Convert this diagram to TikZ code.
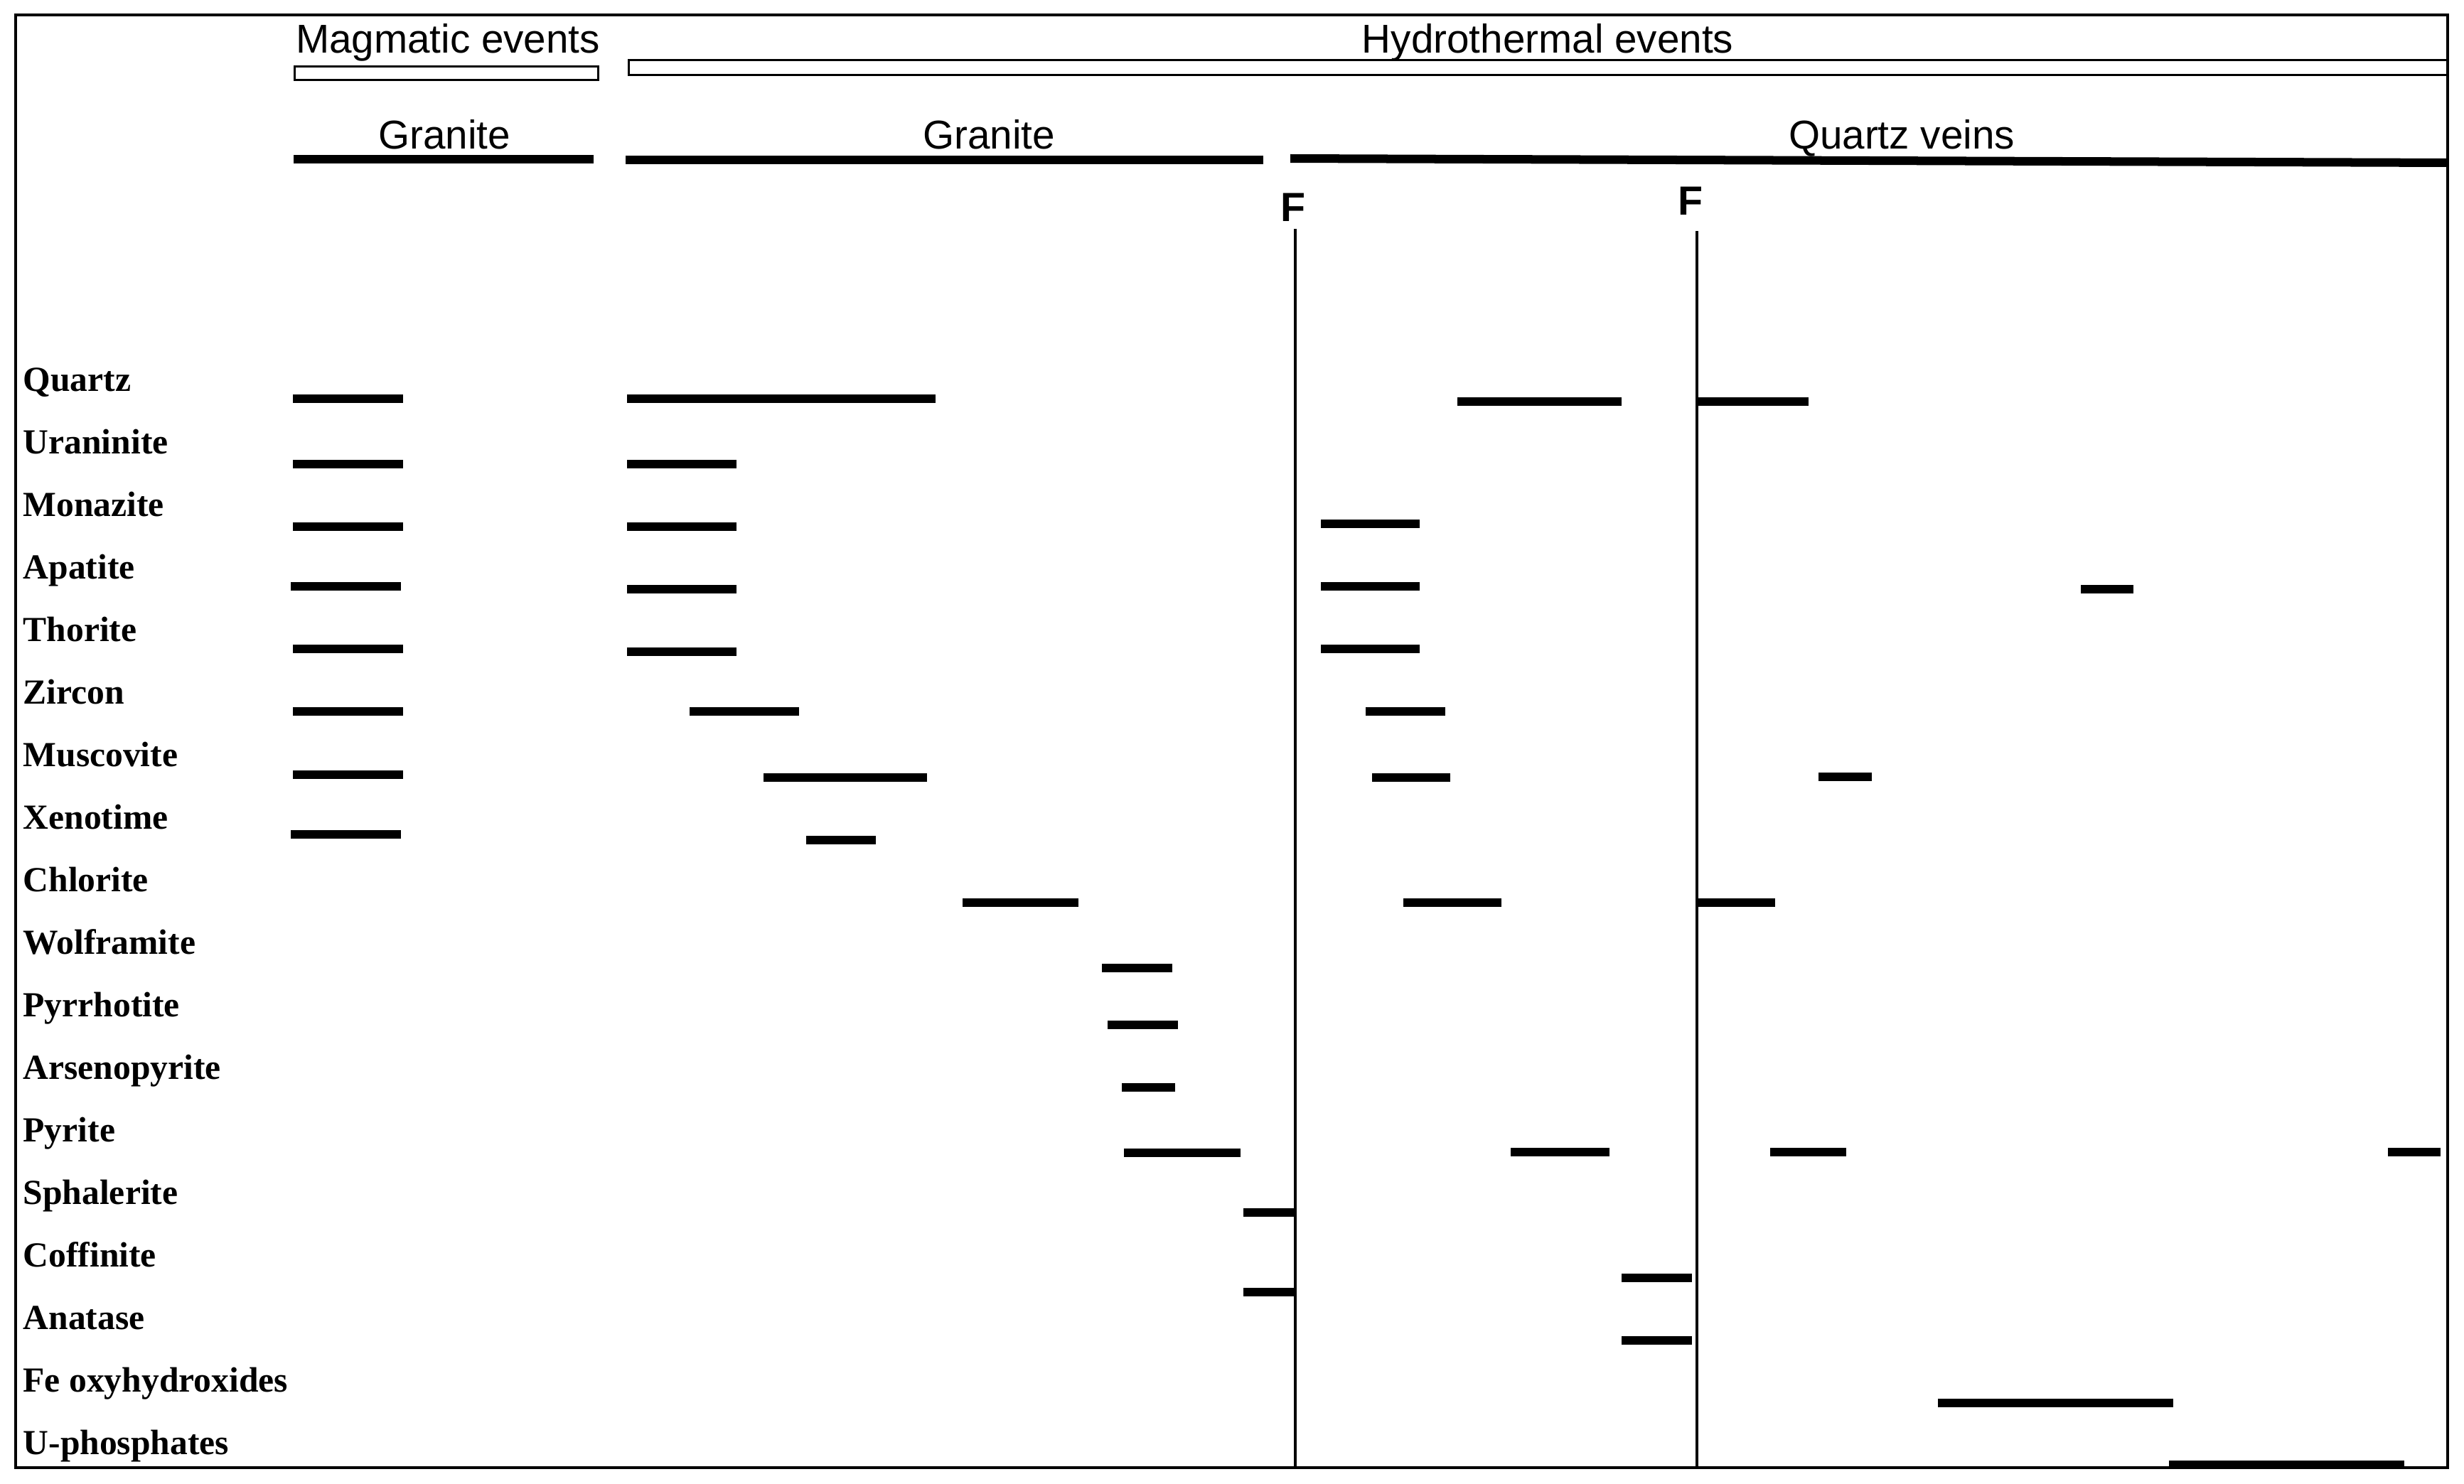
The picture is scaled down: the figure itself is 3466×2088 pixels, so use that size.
\documentclass[tikz,border=0pt]{standalone}
\usepackage{fontspec}
\setmainfont{Liberation Serif}
\newfontfamily\hdrfont{Liberation Sans}
\begin{document}
\begin{tikzpicture}[x=0.01cm,y=-0.01cm,
  hdr/.style={font=\hdrfont\fontsize{16.1}{19}\selectfont, inner sep=0pt, anchor=base},
  lbl/.style={font=\bfseries\fontsize{14.1}{17}\selectfont, inner sep=0pt, anchor=base west},
  fmark/.style={font=\hdrfont\bfseries\fontsize{16.3}{19}\selectfont, inner sep=0pt, anchor=base west},
  bar/.style={line width=0.118cm, line cap=butt},
  hbar/.style={line width=0.12cm, line cap=butt},
  openbar/.style={line width=0.033cm},
  frame/.style={line width=0.036cm},
  fault/.style={line width=0.032cm}]
\useasboundingbox (0,0) rectangle (3466,2088);
\fill[white] (0,0) rectangle (3466,2088);

% outer frame
\draw[frame] (22,21) rectangle (3443,2065);

% top headers
\node[hdr] (magm) at (630,75) {Magmatic events};
\node[hdr] (hydro) at (2177,75) {Hydrothermal events};
\draw[openbar] (414.6,93.6) rectangle (841.4,112.4);
\draw[openbar] (3443,84.6) -- (884.6,84.6) -- (884.6,105.4) -- (3443,105.4);

% second header row
\node[hdr] (gr1) at (625,210) {Granite};
\node[hdr] (gr2) at (1391,210) {Granite};
\node[hdr] (qv) at (2675,210) {Quartz veins};
\draw[hbar] (413,224) -- (835,224);
\draw[hbar] (880,225) -- (1777,225);
\draw[hbar] (1815,223) -- (3443,229);

% faults
\node[fmark] (F1) at (1801,311) {F};
\node[fmark] (F2) at (2360,303) {F};
\coordinate (f1top) at (1822,322);
\coordinate (f1bot) at (1822,2065);
\coordinate (f2top) at (2387,325);
\coordinate (f2bot) at (2387,2065);
\draw[fault] (f1top) -- (f1bot);
\draw[fault] (f2top) -- (f2bot);

% mineral labels
\foreach \name [count=\i from 0] in {Quartz,Uraninite,Monazite,Apatite,Thorite,Zircon,Muscovite,Xenotime,Chlorite,Wolframite,Pyrrhotite,Arsenopyrite,Pyrite,Sphalerite,Coffinite,Anatase,Fe oxyhydroxides,U-phosphates}
  \node[lbl] (lab\i) at (32,{550+88*\i}) {\name};

% bars: x1/x2/y
\foreach \a/\b/\y in {
  412/567/561, 882/1316/561, 2050/2281/565, 2389/2544/565,
  412/567/653, 882/1036/653,
  412/567/741, 882/1036/741, 1858/1997/737,
  409/564/825, 882/1036/829, 1858/1997/825, 2927/3001/829,
  412/567/913, 882/1036/917, 1858/1997/913,
  412/567/1001, 970/1124/1001, 1921/2033/1001,
  412/567/1090, 1074/1304/1094, 1930/2040/1094, 2558/2633/1093,
  409/564/1174, 1134/1232/1182,
  1354/1517/1270, 1974/2112/1270, 2389/2497/1270,
  1550/1649/1362,
  1558/1657/1442,
  1578/1653/1530,
  1581/1745/1622, 2125/2264/1621, 2490/2597/1621, 3359/3433/1621,
  1749/1822/1706,
  2281/2380/1798, 1749/1822/1818,
  2281/2380/1886,
  2726/3057/1974,
  3051/3382/2061}
  \draw[bar] (\a,\y) -- (\b,\y);
\end{tikzpicture}
\end{document}
